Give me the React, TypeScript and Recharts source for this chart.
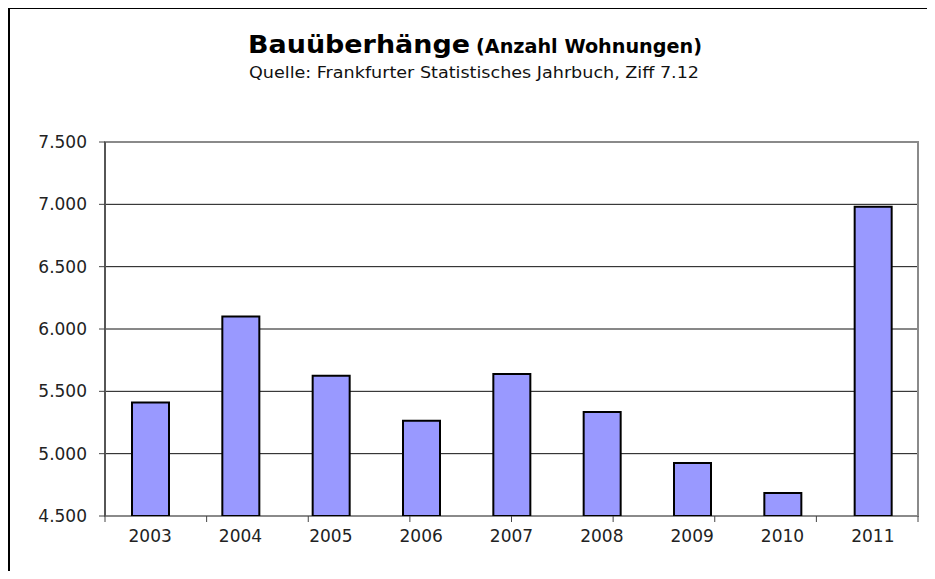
import { BarChart, Bar, XAxis, YAxis, CartesianGrid, ReferenceArea } from 'recharts';

const YEARS = ['2003', '2004', '2005', '2006', '2007', '2008', '2009', '2010', '2011'];
const OVERHANG = [5410, 6100, 5625, 5265, 5640, 5335, 4925, 4685, 6980];
const Y_TICKS = [4500, 5000, 5500, 6000, 6500, 7000, 7500];
const EDGE_TICKS = [0, 1, 2, 3, 4, 5, 6, 7, 8, 9];

const data = YEARS.map((year, i) => ({ year, value: OVERHANG[i] }));

const FONT = '"DejaVu Sans", "Liberation Sans", Arial, sans-serif';

// 7500 -> "7.500"
function formatDe(v: number) {
  return String(v).replace(/\B(?=(\d{3})+(?!\d))/g, '.');
}

export default function App() {
  return (
    <div style={{ position: 'relative', width: 919, height: 563, fontFamily: FONT }}>
      <div
        style={{
          position: 'absolute',
          left: 0,
          top: -1,
          right: -8,
          bottom: -8,
          borderTop: '2px solid #000',
          borderLeft: '2px solid #000',
        }}
      />
      <BarChart
        width={919}
        height={560}
        data={data}
        margin={{ top: 134, right: 9, left: 0, bottom: 21 }}
        style={{ position: 'absolute', left: 0, top: 0 }}
      >
        <CartesianGrid xAxisId="bCat" vertical={false} stroke="#111" strokeWidth={1} />
        <ReferenceArea xAxisId="bCat" y1={4500} y2={7500} fill="none" stroke="#8a8a8a" strokeWidth={2} ifOverflow="visible" />
        <XAxis
          xAxisId="aEdge"
          type="number"
          domain={[0, 9]}
          ticks={EDGE_TICKS}
          interval={0}
          height={1}
          axisLine={false}
          tickSize={6}
          tickLine={{ stroke: '#444' }}
          tick={() => <g />}
          allowDataOverflow
        />
        <XAxis
          xAxisId="bCat"
          dataKey="year"
          height={30}
          axisLine={false}
          tickLine={false}
          tickMargin={7}
          tick={{ fill: '#222', fontSize: 17, fontFamily: FONT }}
          interval={0}
        />
        <YAxis
          width={97}
          domain={[4500, 7500]}
          ticks={Y_TICKS}
          tickFormatter={formatDe}
          axisLine={{ stroke: '#444', strokeWidth: 1.5 }}
          tickLine={{ stroke: '#444' }}
          tickSize={6}
          tickMargin={12}
          tick={{ fill: '#222', fontSize: 17, fontFamily: FONT }}
          allowDataOverflow
        />
        <Bar
          xAxisId="bCat"
          dataKey="value"
          fill="#9999ff"
          stroke="#000"
          strokeWidth={2}
          barSize={37}
          isAnimationActive={false}
        />
        <ReferenceArea xAxisId="bCat" y1={4500} y2={4500} stroke="#444" strokeWidth={1.5} fill="none" ifOverflow="visible" />
      </BarChart>
      <svg
        width={919}
        height={100}
        style={{ position: 'absolute', left: 0, top: 0, pointerEvents: 'none' }}
      >
        <text x={240} y={45} fontFamily={FONT} fontWeight="bold" fontSize={25} fill="#000" textLength={222} lengthAdjust="spacingAndGlyphs">
          Bauüberhänge
        </text>
        <text x={468} y={45} fontFamily={FONT} fontWeight="bold" fontSize={20} fill="#000" textLength={226} lengthAdjust="spacingAndGlyphs">
          (Anzahl Wohnungen)
        </text>
        <text x={241} y={70} fontFamily={FONT} fontSize={16} fill="#111" textLength={450} lengthAdjust="spacingAndGlyphs">
          Quelle:  Frankfurter Statistisches Jahrbuch, Ziff 7.12
        </text>
      </svg>
    </div>
  );
}
